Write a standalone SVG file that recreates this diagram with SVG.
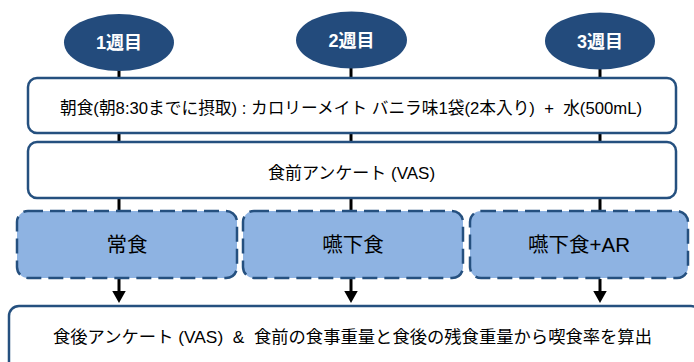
<svg xmlns="http://www.w3.org/2000/svg" width="694" height="362" viewBox="0 0 694 362">
<style>
text{font-family:"Liberation Sans","Noto Sans CJK JP",sans-serif;fill:#000}
.wk{fill:#234b7c}
.wkt{fill:#fff;font-weight:bold;font-size:18px}
.box{fill:#fff;stroke:#25507f;stroke-width:2.5}
.dbox{fill:#8eb3e2;stroke:#25507f;stroke-width:2.5;stroke-dasharray:15 7}
.t{font-size:16.5px}
.tm{font-size:17px}
.tb{font-size:20.5px}
.ln{stroke:#000;stroke-width:3}
</style>
<defs>
<marker id="ah" markerWidth="5" markerHeight="5" refX="0" refY="2.25" orient="auto" markerUnits="strokeWidth">
<path d="M0,0 L4,2.25 L0,4.5 Z" fill="#000"/>
</marker>
</defs>
<g id="connectors">
<line class="ln" x1="119" y1="60" x2="119" y2="212"/>
<line class="ln" x1="351" y1="60" x2="351" y2="212"/>
<line class="ln" x1="600" y1="60" x2="600" y2="212"/>
<line class="ln" x1="119" y1="279" x2="119" y2="291" marker-end="url(#ah)"/>
<line class="ln" x1="351" y1="279" x2="351" y2="291" marker-end="url(#ah)"/>
<line class="ln" x1="600" y1="279" x2="600" y2="291" marker-end="url(#ah)"/>
</g>
<g id="week1"><ellipse class="wk" cx="119" cy="42.5" rx="55" ry="28.5"/><text class="wkt" x="119" y="49" text-anchor="middle">1週目</text></g>
<g id="week2"><ellipse class="wk" cx="351.5" cy="40" rx="55.5" ry="28.5"/><text class="wkt" x="351.5" y="46.5" text-anchor="middle">2週目</text></g>
<g id="week3"><ellipse class="wk" cx="600" cy="41" rx="55" ry="28.5"/><text class="wkt" x="600" y="47.5" text-anchor="middle">3週目</text></g>
<g id="breakfast"><rect class="box" x="28" y="78" width="648" height="55" rx="9"/><text class="t" x="60" y="113.5" textLength="582" lengthAdjust="spacingAndGlyphs" xml:space="preserve">朝食(朝8:30までに摂取) : カロリーメイト バニラ味1袋(2本入り)  +  水(500mL)</text></g>
<g id="pre-vas"><rect class="box" x="28" y="142" width="648" height="56" rx="9"/><text class="tm" x="351.5" y="178.5" text-anchor="middle">食前アンケート (VAS)</text></g>
<g id="normal"><rect class="dbox" x="17" y="211" width="220" height="67" rx="11"/><text class="tb" x="127" y="251.5" text-anchor="middle">常食</text></g>
<g id="dysphagia"><rect class="dbox" x="243" y="211" width="220" height="67" rx="11"/><text class="tb" x="353" y="251.5" text-anchor="middle">嚥下食</text></g>
<g id="dysphagia-ar"><rect class="dbox" x="470" y="211" width="218" height="67" rx="11"/><text class="tb" x="579" y="251.5" text-anchor="middle">嚥下食+AR</text></g>
<g id="post"><rect class="box" x="9" y="306" width="692" height="70" rx="10"/><text class="t" x="53" y="343" textLength="599" lengthAdjust="spacingAndGlyphs" xml:space="preserve">食後アンケート (VAS)  &amp;  食前の食事重量と食後の残食重量から喫食率を算出</text></g>
</svg>
